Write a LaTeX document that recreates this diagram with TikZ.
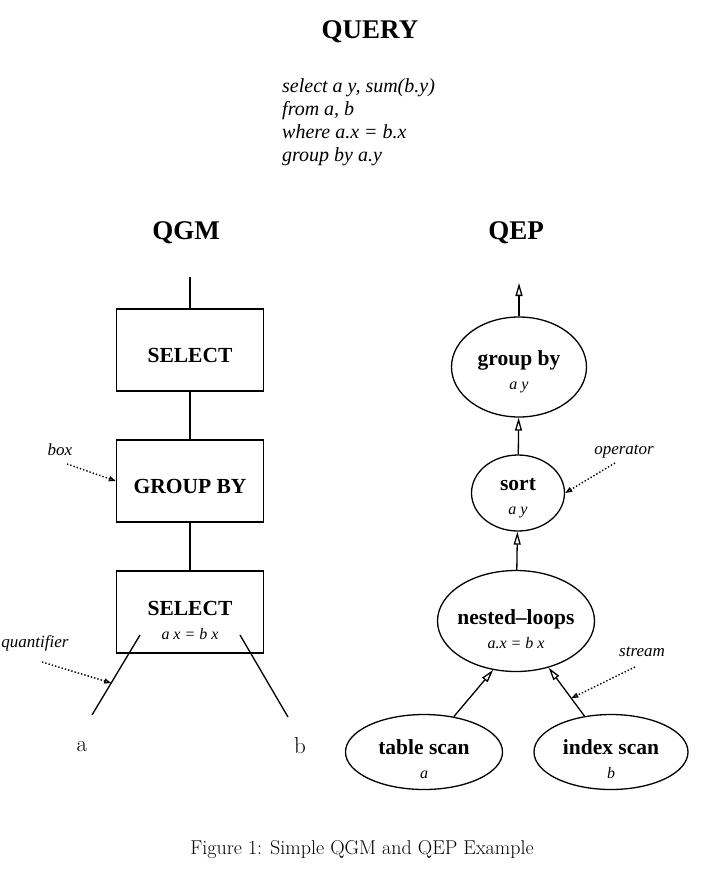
\documentclass[tikz,border=0pt]{standalone}
\usepackage{fontspec}
\newfontfamily\tnr{Liberation Serif}
\usetikzlibrary{arrows.meta,shapes.geometric,calc}

\tikzset{
  boite/.style={draw, line width=1.3pt, minimum width=147pt, minimum height=82pt, inner sep=0pt},
  ovale/.style={draw, ellipse, line width=1.3pt, inner sep=0pt},
  etiq/.style={align=center, inner sep=0pt, yshift=-5pt, font=\tnr\fontsize{21.5}{25}\selectfont\bfseries},
  trait/.style={line width=1.3pt},
  fleche/.style={line width=1.3pt, -{Triangle[open,length=13pt,width=7pt]}},
  renvoi/.style={dotted, line width=1.4pt, -{Triangle[open,length=7pt,width=5pt]}},
  remarque/.style={font=\tnr\fontsize{17}{20}\selectfont\itshape, inner sep=0pt},
  titre/.style={font=\tnr\fontsize{27}{30}\selectfont\bfseries, inner sep=0pt},
}
\newcommand{\sous}[1]{\\[-1pt]{\fontsize{16}{18}\selectfont\mdseries\itshape #1}}

\begin{document}
\begin{tikzpicture}[x=1pt,y=-1pt]
  \useasboundingbox (0,0) rectangle (720,884);
  % query
  \node[titre] (titrequery) at (370,32) {QUERY};
  \node[inner sep=0pt, anchor=west, align=left, font=\tnr\fontsize{20}{23}\selectfont\itshape] (requete) at (282,122)
    {select a y, sum(b.y)\\from a, b\\where a.x = b.x\\group by a.y};
  \node[titre] (titreqgm) at (186,233) {QGM};
  \node[titre] (titreqep) at (516,233) {QEP};

  % QGM
  \coordinate (haut) at (190,277);
  \node[boite] (boite1) at (190,350) [label={[etiq]center:SELECT}] {};
  \node[boite] (boite2) at (190,481) [label={[etiq]center:GROUP BY}] {};
  \node[boite] (boite3) at (190,612) [label={[etiq,yshift=-3pt]center:{SELECT\sous{a x = b x}}}] {};
  \draw[trait] (haut) -- (boite1);
  \draw[trait] (boite1) -- (boite2);
  \draw[trait] (boite2) -- (boite3);
  \coordinate (qa1) at (140,635);
  \coordinate (qa2) at (92,715);
  \coordinate (qb1) at (240,635);
  \coordinate (qb2) at (288,717);
  \draw[trait] (qa1) -- (qa2);
  \draw[trait] (qb1) -- (qb2);
  \node[font=\fontsize{23}{25}\selectfont] (lettrea) at (82,746) {a};
  \node[font=\fontsize{23}{25}\selectfont] (lettreb) at (300,746) {b};

  \node[remarque] (noteboite) at (60,450) {box};
  \coordinate (d1) at (67,464);
  \draw[renvoi] (d1) -- (boite2.west);
  \node[remarque] (notequant) at (35,643) {quantifier};
  \coordinate (d2) at (42,662);
  \draw[renvoi] (d2) -- ($(qa1)!0.6!(qa2)$);

  % QEP
  \node[ovale, minimum width=135pt, minimum height=100pt] (noeud1) at (519,367)
    [label={[etiq]center:{group by\sous{a y}}}] {};
  \node[ovale, minimum width=93pt, minimum height=76pt] (noeud2) at (518,493)
    [label={[etiq]center:{sort\sous{a y}}}] {};
  \node[ovale, minimum width=157pt, minimum height=101pt] (noeud3) at (516,621)
    [label={[etiq,yshift=-3pt]center:{nested\textendash loops\sous{a.x = b x}}}] {};
  \node[ovale, minimum width=157pt, minimum height=75pt] (noeud4) at (424,752)
    [label={[etiq,yshift=-2pt]center:{table scan\sous{a}}}] {};
  \node[ovale, minimum width=154pt, minimum height=75pt] (noeud5) at (611,752)
    [label={[etiq,yshift=-2pt]center:{index scan\sous{b}}}] {};
  \coordinate (sortie) at (519,283);
  \draw[fleche] (noeud1) -- (sortie);
  \draw[fleche] (noeud2) -- (noeud1);
  \draw[fleche] (noeud3) -- (noeud2);
  \draw[fleche] (noeud4) -- (noeud3.245);
  \draw[fleche] (noeud5) -- (noeud3.305) coordinate[pos=0.37] (flux);

  \node[remarque] (noteop) at (624,452) {operator};
  \coordinate (d3) at (615,463);
  \draw[renvoi] (d3) -- (noeud2.east);
  \node[remarque] (noteflux) at (642,652) {stream};
  \coordinate (d4) at (635,667);
  \draw[renvoi] (d4) -- (flux);

  % caption
  \node[font=\fontsize{20}{24}\selectfont] (legende) at (362,850) {Figure 1: Simple QGM and QEP Example};
\end{tikzpicture}
\end{document}
